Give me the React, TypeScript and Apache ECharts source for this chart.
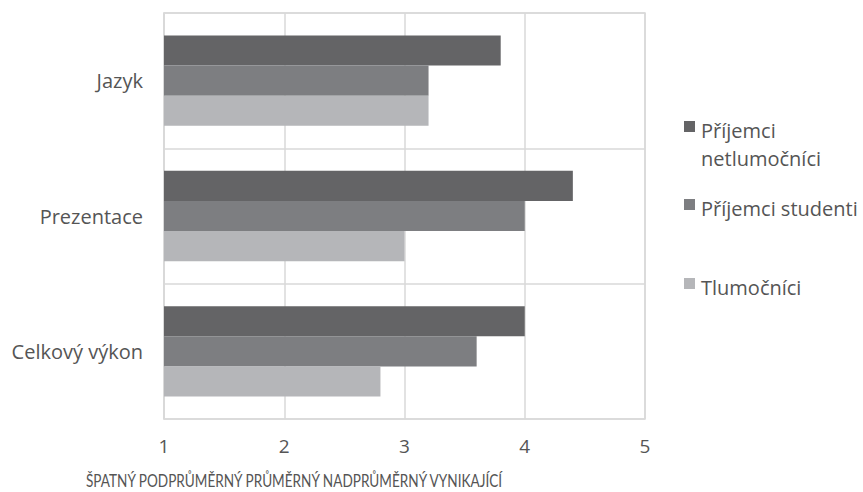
import React, { useEffect, useRef } from "react";
import * as echarts from "echarts";

const categories = ["Jazyk", "Prezentace", "Celkový výkon"];
const seriesNames = ["Příjemci netlumočníci", "Příjemci studenti", "Tlumočníci"];
const legendLabels = ["Příjemci\nnetlumočníci", "Příjemci studenti", "Tlumočníci"];
const netlumocnici = [3.8, 4.4, 4.0];
const studenti = [3.2, 4.0, 3.6];
const tlumocnici = [3.2, 3.0, 2.8];
const xTicks = [1, 2, 3, 4, 5];
const axisTitle = "ŠPATNÝ PODPRŮMĚRNÝ PRŮMĚRNÝ NADPRŮMĚRNÝ VYNIKAJÍCÍ";

const colors = ["#646466", "#7d7e81", "#b5b6b9"];
const FONT = "Open Sans";
const TEXT = "#555555";

export default function App() {
  const ref = useRef<HTMLDivElement>(null);
  useEffect(() => {
    if (!ref.current) return;
    const chart = echarts.init(ref.current, null, { renderer: "svg" });
    const data = [netlumocnici, studenti, tlumocnici];
    const legendY = [130, 208, 287];
    const graphics: any[] = [];
    legendLabels.forEach((lbl, i) => {
      graphics.push({
        type: "rect",
        x: 684,
        y: legendY[i] - 9,
        shape: { x: 0, y: 0, width: 11, height: 11 },
        style: { fill: colors[i] },
      });
      graphics.push({
        type: "text",
        x: 701,
        y: legendY[i] - 14,
        style: {
          text: lbl,
          font: `20px '${FONT}'`,
          fill: TEXT,
          lineHeight: 28,
          verticalAlign: "top",
        },
      });
    });
    graphics.push({
      type: "text",
      x: 294,
      y: 480,
      scaleX: 0.755,
      style: {
        text: axisTitle,
        font: `18px Lato`,
        lineHeight: 18,
        fill: TEXT,
        align: "center",
        verticalAlign: "middle",
      },
    });
    chart.setOption({
      animation: false,
      textStyle: { fontFamily: FONT },
      grid: {
        left: 164,
        right: 218,
        top: 13,
        bottom: 73,
        show: true,
        borderColor: "#d9d9d9",
        borderWidth: 1.5,
      },
      xAxis: {
        type: "value",
        min: 1,
        max: 5,
        interval: 1,
        axisLine: { show: false },
        axisTick: { show: false },
        splitLine: { lineStyle: { color: "#d9d9d9", width: 1.5 } },
        axisLabel: {
          margin: 17,
          fontSize: 19,
          color: TEXT,
          fontFamily: FONT,
          formatter: (v: number) => (xTicks.includes(v) ? String(v) : ""),
        },
      },
      yAxis: {
        type: "category",
        data: categories,
        inverse: true,
        axisLine: { lineStyle: { color: "#d9d9d9", width: 1.5 } },
        axisTick: { show: false },
        splitLine: { show: true, lineStyle: { color: "#d9d9d9", width: 1.5 } },
        axisLabel: { margin: 21, fontSize: 20, color: TEXT, fontFamily: FONT },
      },
      series: seriesNames.map((name, i) => ({
        name,
        type: "bar",
        data: data[i],
        barGap: "0%",
        barCategoryGap: "33.3%",
        itemStyle: { color: colors[i] },
      })),
      graphic: graphics,
    });
    return () => chart.dispose();
  }, []);
  return (
    <div
      ref={ref}
      style={{ position: "absolute", left: 0, top: 0, width: 863, height: 492 }}
    />
  );
}
